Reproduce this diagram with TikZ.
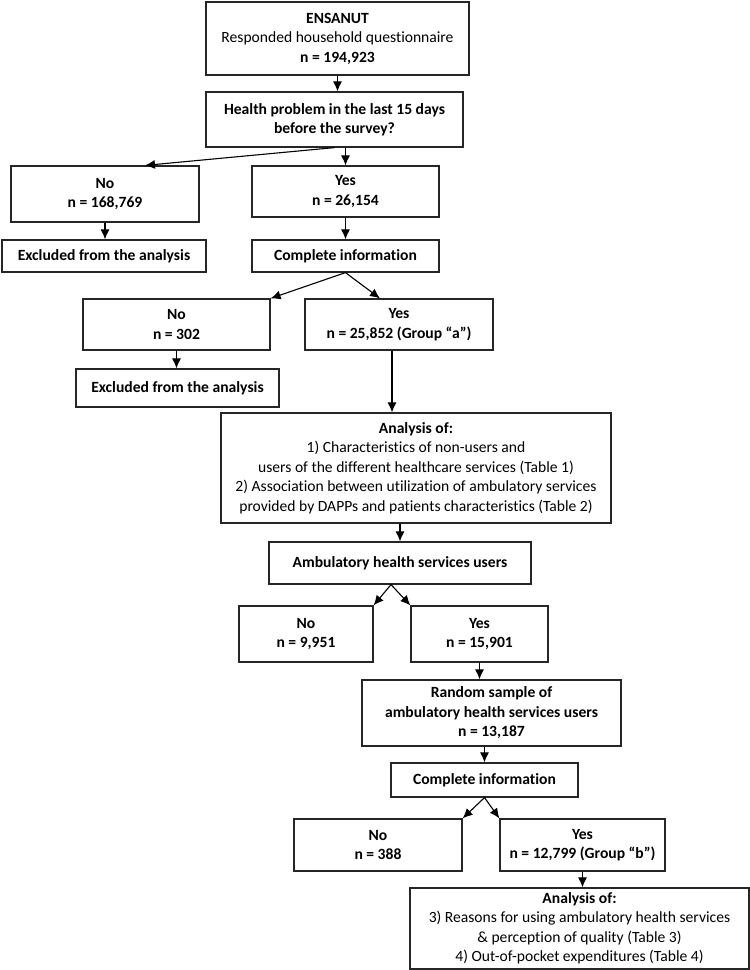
\documentclass[tikz,border=0pt]{standalone}
\usepackage{fontspec}
\setmainfont[Ligatures=NoCommon]{Carlito}
\usepackage{tikz}
\usetikzlibrary{arrows.meta}

\tikzset{
  box/.style={draw=black!85, line width=1.2pt, align=center, inner sep=0pt,
    font=\fontsize{15.6}{19.5}\selectfont},
  arr/.style={line width=1.1pt, -{Latex[length=10pt,width=9pt]}}
}

\begin{document}
\begin{tikzpicture}[x=1pt,y=-1pt]
  \useasboundingbox (0,0) rectangle (750,970);

  % first branch
  \node[box, minimum width=263pt, minimum height=73pt] (ens) at (337.5,38.5)
    {\textbf{ENSANUT}\\Responded household questionnaire\\\textbf{n = 194,923}};
  \node[box, minimum width=257pt, minimum height=55pt] (qhp) at (334.5,119.5)
    {\textbf{Health problem in the last 15 days}\\\textbf{before the survey?}};
  \node[box, minimum width=188pt, minimum height=56pt] (noA) at (105,194)
    {\textbf{No}\\\textbf{n = 168,769}};
  \node[box, minimum width=187pt, minimum height=51pt] (yesA) at (345.5,191.5)
    {\textbf{Yes}\\\textbf{n = 26,154}};
  \node[box, minimum width=204pt, minimum height=32pt] (exclA) at (104,256)
    {\textbf{Excluded from the analysis}};
  \node[box, minimum width=187pt, minimum height=32pt] (infoA) at (345.5,256)
    {\textbf{Complete information}};

  % second branch
  \node[box, minimum width=187pt, minimum height=51pt] (noB) at (176.5,324.5)
    {\textbf{No}\\\textbf{n = 302}};
  \node[box, minimum width=188pt, minimum height=51pt] (yesB) at (399,324.5)
    {\textbf{Yes}\\\textbf{n = 25,852 (Group ``a'')}};
  \node[box, minimum width=203pt, minimum height=38pt] (exclB) at (177.5,388)
    {\textbf{Excluded from the analysis}};
  \node[box, minimum width=390pt, minimum height=110pt] (anaA) at (416,468)
    {\textbf{Analysis of:}\\1) Characteristics of non-users and\\
     users of the different healthcare services (Table 1)\\
     2) Association between utilization of ambulatory services\\
     provided by DAPPs and patients characteristics (Table 2)};

  % ambulatory users
  \node[box, minimum width=262pt, minimum height=42pt] (amb) at (400,563)
    {\textbf{Ambulatory health services users}};
  \node[box, minimum width=134pt, minimum height=56pt] (noC) at (306,634)
    {\textbf{No}\\\textbf{n = 9,951}};
  \node[box, minimum width=137pt, minimum height=56pt] (yesC) at (479.5,634)
    {\textbf{Yes}\\\textbf{n = 15,901}};
  \node[box, minimum width=259pt, minimum height=66pt] (rnd) at (491.5,713)
    {\textbf{Random sample of}\\\textbf{ambulatory health services users}\\\textbf{n = 13,187}};
  \node[box, minimum width=187pt, minimum height=34pt] (infoB) at (484.5,780)
    {\textbf{Complete information}};
  \node[box, minimum width=168pt, minimum height=52pt] (noD) at (378,845)
    {\textbf{No}\\\textbf{n = 388}};
  \node[box, minimum width=165pt, minimum height=52pt] (yesD) at (582.5,845)
    {\textbf{Yes}\\\textbf{n = 12,799 (Group ``b'')}};
  \node[box, minimum width=339pt, minimum height=81pt] (anaB) at (579.5,928.5)
    {\textbf{Analysis of:}\\3) Reasons for using ambulatory health services\\
     \& perception of quality (Table 3)\\4) Out-of-pocket expenditures (Table 4)};

  % arrows
  \draw[arr] (ens.south) -- (ens.south |- qhp.north);
  \draw[arr] (qhp.south) -- ([xshift=40pt]noA.north);
  \draw[arr] (yesA.north |- qhp.south) -- (yesA.north);
  \draw[arr] (noA.south) -- (noA.south |- exclA.north);
  \draw[arr] (yesA.south) -- (infoA.north);
  \draw[arr] (infoA.south) -- (noB.north east);
  \draw[arr] (infoA.south) -- ([xshift=-19pt]yesB.north);
  \draw[arr] (noB.south) -- (noB.south |- exclB.north);
  \draw[arr] ([xshift=-7pt]yesB.south) -- ([xshift=-7pt]yesB.south |- anaA.north);
  \draw[arr] (anaA.south -| amb.north) -- (amb.north);
  \draw[arr] ([xshift=-9pt]amb.south) -- (noC.north east);
  \draw[arr] ([xshift=-9pt]amb.south) -- (yesC.north west);
  \draw[arr] (yesC.south) -- (yesC.south |- rnd.north);
  \draw[arr] (rnd.south -| infoB.north) -- (infoB.north);
  \draw[arr] (infoB.south) -- (noD.north east);
  \draw[arr] (infoB.south) -- (yesD.north west);
  \draw[arr] (yesD.south) -- (yesD.south |- anaB.north);
\end{tikzpicture}
\end{document}
